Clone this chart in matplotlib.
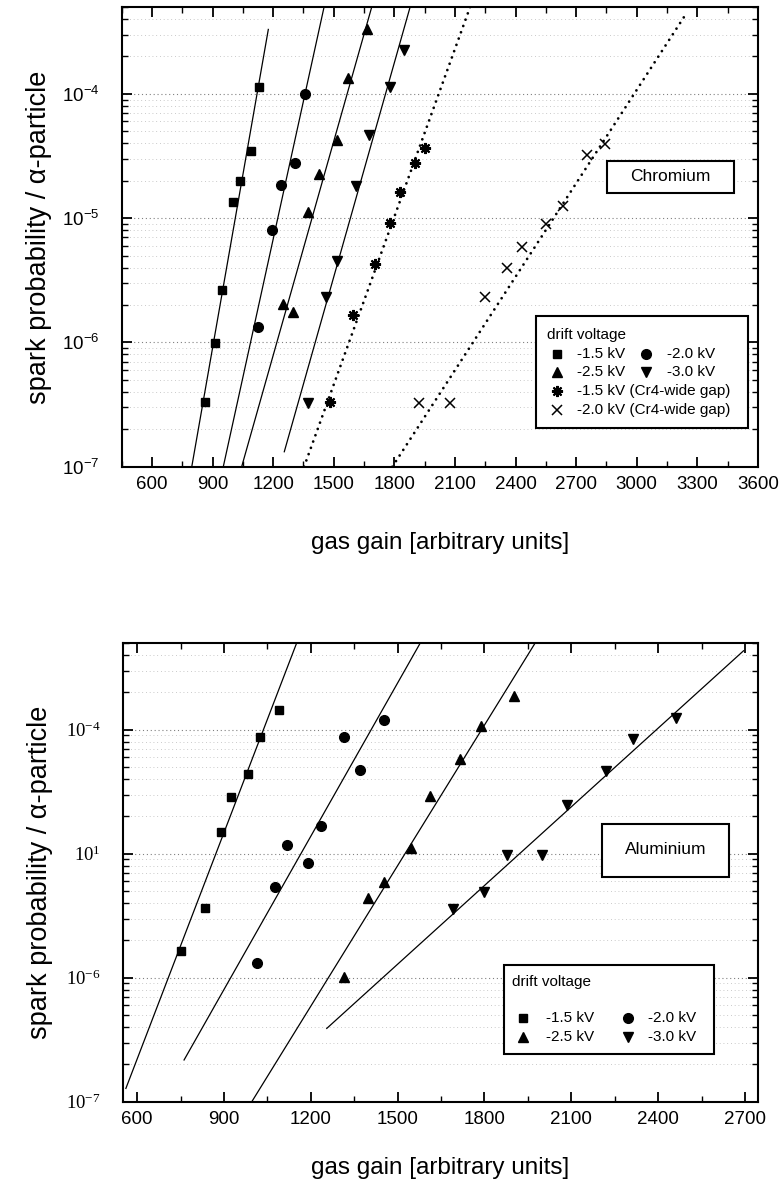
import numpy as np
import matplotlib
matplotlib.use('Agg')
import matplotlib.pyplot as plt
from matplotlib.patches import Rectangle
from matplotlib.ticker import (FixedLocator, FixedFormatter, LogLocator,
                               MultipleLocator, NullFormatter, FormatStrFormatter)

plt.rcParams['font.family'] = ['Liberation Sans', 'DejaVu Sans']

# ---- Chromium (top panel) ----
cr_15_x = [864, 912, 948, 1000, 1036, 1090, 1131]
cr_15_y = [3.3e-7, 9.9e-7, 2.66e-6, 1.34e-5, 2.0e-5, 3.48e-5, 1.13e-4]
cr_20_x = [1127, 1193, 1237, 1308, 1358]
cr_20_y = [1.32e-6, 8.05e-6, 1.85e-5, 2.8e-5, 1.0e-4]
cr_25_x = [1247, 1297, 1374, 1427, 1515, 1572, 1663]
cr_25_y = [2.04e-6, 1.76e-6, 1.12e-5, 2.28e-5, 4.27e-5, 1.33e-4, 3.33e-4]
cr_30_x = [1374, 1460, 1518, 1610, 1676, 1779, 1848]
cr_30_y = [3.24e-7, 2.3e-6, 4.53e-6, 1.82e-5, 4.69e-5, 1.13e-4, 2.26e-4]
cr_wide15_x = [1482, 1594, 1704, 1779, 1828, 1903, 1952]
cr_wide15_y = [3.33e-7, 1.66e-6, 4.27e-6, 9.1e-6, 1.61e-5, 2.77e-5, 3.66e-5]
cr_wide20_x = [1922, 2076, 2249, 2357, 2434, 2550, 2634, 2756, 2844]
cr_wide20_y = [3.24e-7, 3.28e-7, 2.34e-6, 3.95e-6, 5.83e-6, 9.0e-6, 1.26e-5, 3.24e-5, 3.96e-5]

# fit lines (end points)
cr_fit15_x, cr_fit15_y = [797, 1176], [1.0e-7, 3.3e-4]
cr_fit20_x, cr_fit20_y = [953, 1452], [1.0e-7, 5.0e-4]
cr_fit25_x, cr_fit25_y = [1044, 1688], [1.0e-7, 5.0e-4]
cr_fit30_x, cr_fit30_y = [1255, 1878], [1.32e-7, 5.0e-4]
cr_fitw15_x, cr_fitw15_y = [1353, 2175], [1.0e-7, 5.0e-4]
cr_fitw20_x, cr_fitw20_y = [1790, 3240], [1.0e-7, 4.3e-4]

# ---- Aluminium (bottom panel) ----
al_15_x = [751, 834, 889, 924, 984, 1023, 1089]
al_15_y = [1.65e-6, 3.67e-6, 1.49e-5, 2.88e-5, 4.4e-5, 8.73e-5, 1.44e-4]
al_20_x = [1013, 1076, 1119, 1189, 1235, 1314, 1369, 1453]
al_20_y = [1.32e-6, 5.42e-6, 1.17e-5, 8.37e-6, 1.67e-5, 8.73e-5, 4.75e-5, 1.2e-4]
al_25_x = [1315, 1397, 1454, 1547, 1612, 1716, 1788, 1903]
al_25_y = [1.02e-6, 4.37e-6, 5.92e-6, 1.11e-5, 2.92e-5, 5.77e-5, 1.08e-4, 1.87e-4]
al_30_x = [1690, 1800, 1877, 1998, 2085, 2219, 2312, 2460]
al_30_y = [3.58e-6, 4.94e-6, 9.75e-6, 9.75e-6, 2.47e-5, 4.65e-5, 8.41e-5, 1.24e-4]

al_fit15_x, al_fit15_y = [561, 1151], [1.28e-7, 5.0e-4]
al_fit20_x, al_fit20_y = [762, 1578], [2.17e-7, 5.0e-4]
al_fit25_x, al_fit25_y = [996, 1975], [1.0e-7, 5.0e-4]
al_fit30_x, al_fit30_y = [1255, 2695], [3.9e-7, 4.33e-4]

ytick_vals = [1e-7, 1e-6, 1e-5, 1e-4]
cr_ytick_labels = ['$\\mathregular{10^{-7}}$', '$\\mathregular{10^{-6}}$',
                   '$\\mathregular{10^{-5}}$', '$\\mathregular{10^{-4}}$']
al_ytick_labels = ['$\\mathregular{10^{-7}}$', '$\\mathregular{10^{-6}}$',
                   '$\\mathregular{10^{1}}$', '$\\mathregular{10^{-4}}$']

sq = dict(marker='s', ms=6, color='black', ls='none')
ci = dict(marker='o', ms=7, color='black', ls='none')
tu = dict(marker='^', ms=7.5, color='black', ls='none')
td = dict(marker='v', ms=7.5, color='black', ls='none')
ast = dict(marker=(8, 2, 0), ms=8, mew=1.5, color='black', ls='none')
xm = dict(marker='x', ms=7.5, mew=1.1, color='black', ls='none')
fit = dict(color='black', lw=0.9)
dots = dict(color='black', lw=2.0, ls=(0, (0.01, 2.4)), dash_capstyle='round')


def style_axes(ax, xlim, labels, serif=False):
    ax.set_yscale('log')
    ax.set_xlim(*xlim)
    ax.set_ylim(1e-7, 5e-4)
    ax.xaxis.set_major_locator(MultipleLocator(300))
    ax.xaxis.set_minor_locator(MultipleLocator(150))
    ax.xaxis.set_major_formatter(FormatStrFormatter('%d'))
    ax.yaxis.set_major_locator(FixedLocator(ytick_vals))
    ax.yaxis.set_major_formatter(FixedFormatter(labels))
    ax.yaxis.set_minor_locator(LogLocator(base=10, subs=np.arange(2, 10)))
    ax.yaxis.set_minor_formatter(NullFormatter())
    ax.tick_params(which='both', direction='in', top=True, right=True)
    ax.tick_params(which='major', length=7, width=1.3)
    ax.tick_params(which='minor', length=4, width=1.0)
    ax.tick_params(axis='x', labelsize=13.5, pad=7)
    ax.tick_params(axis='y', labelsize=13.5, pad=16)
    if serif:
        ax.tick_params(axis='y', labelfontfamily='Liberation Serif')
    for s in ax.spines.values():
        s.set_linewidth(1.5)
    ax.grid(axis='y', which='major', ls=(0, (1, 2.5)), color='0.5', lw=0.8)
    ax.grid(axis='y', which='minor', ls=(0, (1, 3.5)), color='0.72', lw=0.6)
    ax.set_axisbelow(True)


def draw_box(ax, x0, y0, x1, y1):
    ax.add_patch(Rectangle((x0, y0), x1 - x0, y1 - y0, transform=ax.transAxes,
                           facecolor='white', edgecolor='black', lw=1.5, zorder=5))


def legend_item(ax, style, xm_, xt, y, label):
    ax.plot([xm_], [y], transform=ax.transAxes, zorder=6, clip_on=False, **style)
    ax.text(xt, y, label, transform=ax.transAxes, fontsize=11, va='center',
            ha='left', zorder=6)


fig = plt.figure(figsize=(7.83, 11.84), dpi=100)

# Primer panel: Chromium
ax1 = fig.add_axes([0.1554, 0.6058, 0.8126, 0.3883])
style_axes(ax1, (450, 3600), cr_ytick_labels)
ax1.plot(cr_fit15_x, cr_fit15_y, **fit)
ax1.plot(cr_fit20_x, cr_fit20_y, **fit)
ax1.plot(cr_fit25_x, cr_fit25_y, **fit)
ax1.plot(cr_fit30_x, cr_fit30_y, **fit)
ax1.plot(cr_fitw15_x, cr_fitw15_y, **dots)
ax1.plot(cr_fitw20_x, cr_fitw20_y, **dots)
ax1.plot(cr_15_x, cr_15_y, **sq)
ax1.plot(cr_20_x, cr_20_y, **ci)
ax1.plot(cr_25_x, cr_25_y, **tu)
ax1.plot(cr_30_x, cr_30_y, **td)
ax1.plot(cr_wide15_x, cr_wide15_y, **ast)
ax1.plot(cr_wide20_x, cr_wide20_y, **xm)
ax1.set_xlabel('gas gain [arbitrary units]', fontsize=17.5)
ax1.set_ylabel('spark probability / \u03b1-particle', fontsize=19.5)
ax1.xaxis.set_label_coords(0.5, -0.166)
ax1.xaxis.label.set_va('center')
ax1.yaxis.set_label_coords(-0.13, 0.5)
ax1.yaxis.label.set_va('center')

draw_box(ax1, 0.762, 0.596, 0.962, 0.665)
ax1.text(0.862, 0.631, 'Chromium', transform=ax1.transAxes, fontsize=12.5,
         ha='center', va='center', zorder=6)

draw_box(ax1, 0.651, 0.085, 0.984, 0.328)
ax1.text(0.668, 0.287, 'drift voltage', transform=ax1.transAxes, fontsize=11,
         ha='left', va='center', zorder=6)
legend_item(ax1, sq, 0.684, 0.715, 0.2457, '-1.5 kV')
legend_item(ax1, ci, 0.8235, 0.8575, 0.2457, '-2.0 kV')
legend_item(ax1, tu, 0.684, 0.715, 0.2059, '-2.5 kV')
legend_item(ax1, td, 0.8235, 0.8575, 0.2059, '-3.0 kV')
legend_item(ax1, ast, 0.684, 0.715, 0.1637, '-1.5 kV (Cr4-wide gap)')
legend_item(ax1, xm, 0.684, 0.715, 0.1224, '-2.0 kV (Cr4-wide gap)')

# Segundo panel: Aluminium
ax2 = fig.add_axes([0.1567, 0.0695, 0.8114, 0.3874])
style_axes(ax2, (550, 2745), al_ytick_labels, serif=True)
ax2.plot(al_fit15_x, al_fit15_y, **fit)
ax2.plot(al_fit20_x, al_fit20_y, **fit)
ax2.plot(al_fit25_x, al_fit25_y, **fit)
ax2.plot(al_fit30_x, al_fit30_y, **fit)
ax2.plot(al_15_x, al_15_y, **sq)
ax2.plot(al_20_x, al_20_y, **ci)
ax2.plot(al_25_x, al_25_y, **tu)
ax2.plot(al_30_x, al_30_y, **td)
ax2.set_xlabel('gas gain [arbitrary units]', fontsize=17.5)
ax2.set_ylabel('spark probability / \u03b1-particle', fontsize=19.5)
ax2.xaxis.set_label_coords(0.5, -0.1445)
ax2.xaxis.label.set_va('center')
ax2.yaxis.set_label_coords(-0.13, 0.5)
ax2.yaxis.label.set_va('center')

draw_box(ax2, 0.755, 0.4905, 0.954, 0.605)
ax2.text(0.855, 0.549, 'Aluminium', transform=ax2.transAxes, fontsize=12.5,
         ha='center', va='center', zorder=6)

draw_box(ax2, 0.6007, 0.104, 0.9307, 0.298)
ax2.text(0.613, 0.2616, 'drift voltage', transform=ax2.transAxes, fontsize=11,
         ha='left', va='center', zorder=6)
legend_item(ax2, sq, 0.6296, 0.6658, 0.1818, '-1.5 kV')
legend_item(ax2, ci, 0.795, 0.827, 0.1818, '-2.0 kV')
legend_item(ax2, tu, 0.6296, 0.6658, 0.1417, '-2.5 kV')
legend_item(ax2, td, 0.795, 0.827, 0.1417, '-3.0 kV')

fig.savefig('out.png', dpi=100)
